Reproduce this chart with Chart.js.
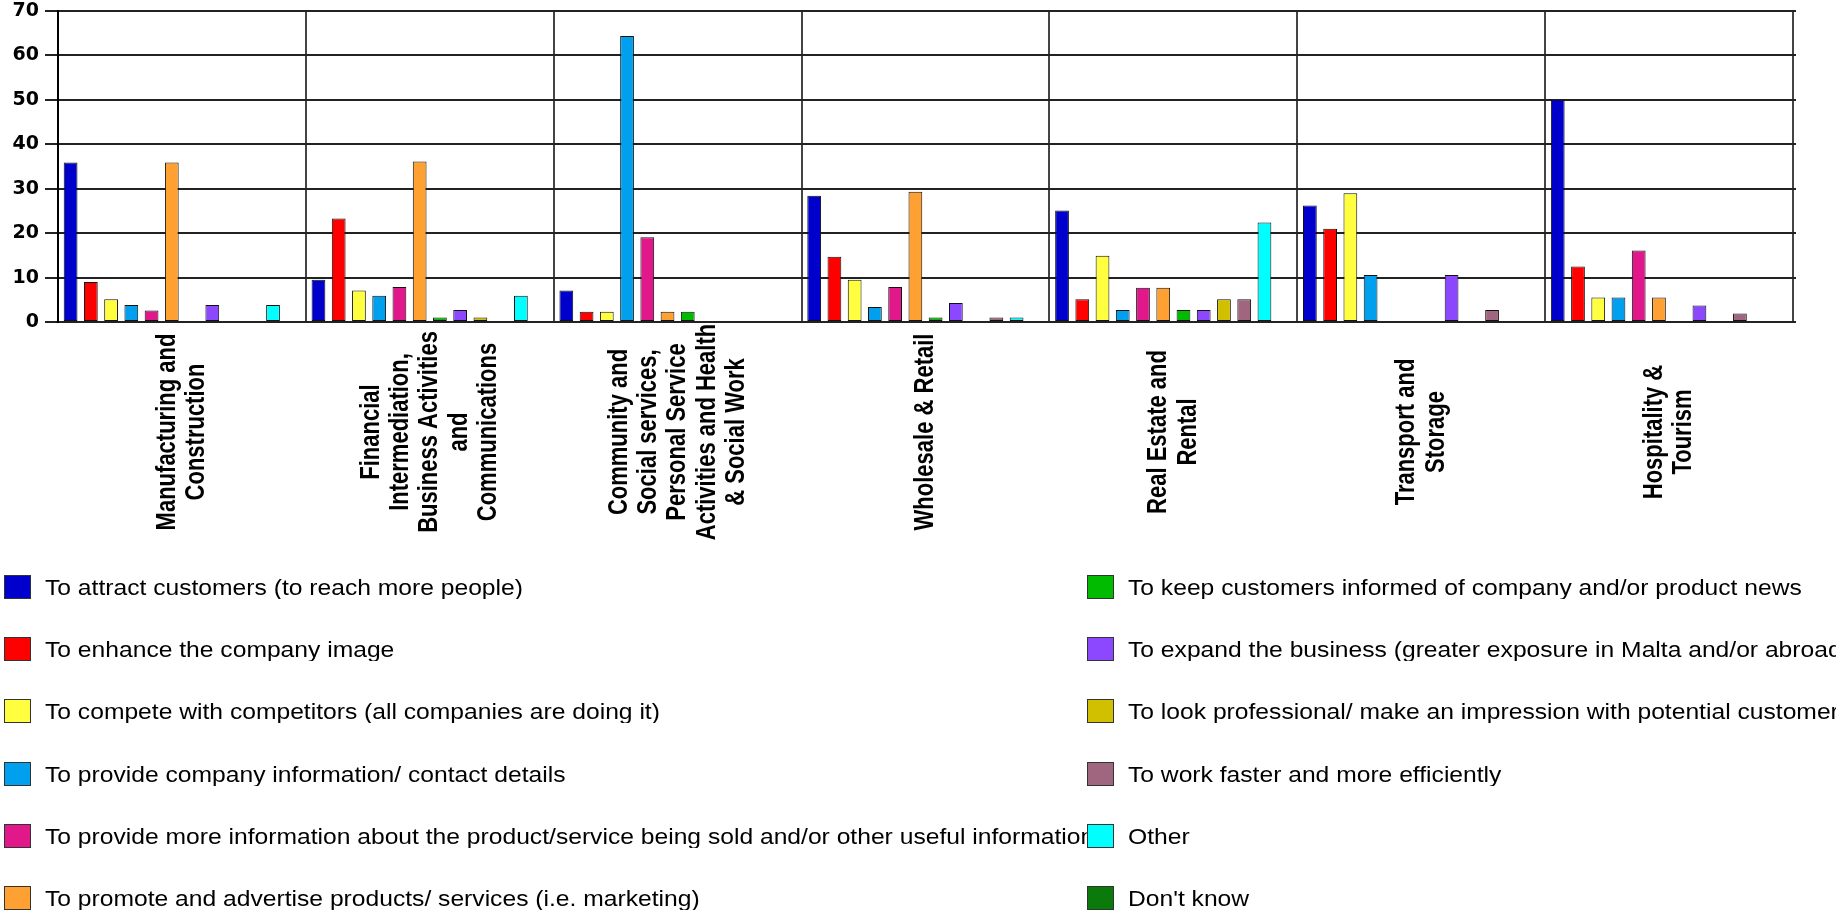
<!DOCTYPE html>
<html>
<head>
<meta charset="utf-8">
<title>Reasons for having a website by sector</title>
<script src="https://cdn.jsdelivr.net/npm/chart.js@4.4.1/dist/chart.umd.min.js"></script>
<style>
    html, body { margin: 0; padding: 0; background: #fff; overflow: hidden; }
    #wrap { position: relative; width: 1836px; height: 915px; }
    #chart { position: absolute; left: 0; top: 0; }
    .legend-box { position: absolute; width: 27px; height: 24px; box-sizing: border-box; border: 1px solid #333; }
    .legend-text { position: absolute; height: 24px; line-height: 24px; overflow: hidden; white-space: nowrap;
                   font: 22px "Liberation Sans", Arial, sans-serif; color: #000; }
    .legend-text span { display: inline-block; transform: scaleX(1.12); transform-origin: left center; }
</style>
</head>
<body>
<div id="wrap">
    <canvas id="chart" width="1836" height="915"></canvas>
    <div id="legend"></div>
</div>
<script>
// sectors (x axis), one array of lines per label
var categories = [
    ['Manufacturing and', 'Construction'],
    ['Financial', 'Intermediation,', 'Business Activities', 'and', 'Communications'],
    ['Community and', 'Social services,', 'Personal Service', 'Activities and Health', '& Social Work'],
    ['Wholesale & Retail'],
    ['Real Estate and', 'Rental'],
    ['Transport and', 'Storage'],
    ['Hospitality &', 'Tourism']
];

var reasons = [
    'To attract customers (to reach more people)',
    'To enhance the company image',
    'To compete with competitors (all companies are doing it)',
    'To provide company information/ contact details',
    'To provide more information about the product/service being sold and/or other useful information',
    'To promote and advertise products/ services (i.e. marketing)',
    'To keep customers informed of company and/or product news',
    'To expand the business (greater exposure in Malta and/or abroad)',
    'To look professional/ make an impression with potential customers',
    'To work faster and more efficiently',
    'Other',
    "Don't know"
];

var colours = ['#0000CC', '#FF0000', '#FFFF40', '#00A0EE', '#E0188A', '#FFA033',
               '#00BB00', '#8C48FF', '#D0C000', '#A06680', '#00FFFF', '#0A7A0A'];

// percentages per sector
var attract      = [35.9, 9.5, 7.1, 28.4, 25.1, 26.2, 50.0];
var image        = [9.0, 23.3, 2.3, 14.7, 5.1, 21.0, 12.5];
var compete      = [5.1, 7.1, 2.3, 9.5, 14.9, 29.0, 5.5];
var contactInfo  = [3.8, 5.9, 64.4, 3.4, 2.7, 10.6, 5.5];
var productInfo  = [2.6, 7.9, 19.1, 7.9, 7.7, 0, 16.1];
var promote      = [35.9, 36.1, 2.3, 29.3, 7.7, 0, 5.5];
var keepInformed = [0, 1.0, 2.3, 1.0, 2.7, 0, 0];
var expand       = [3.8, 2.7, 0, 4.3, 2.7, 10.6, 3.7];
var professional = [0, 1.0, 0, 0, 5.1, 0, 0];
var faster       = [0, 0, 0, 1.0, 5.1, 2.7, 1.9];
var other        = [3.8, 5.9, 0, 1.0, 22.4, 0, 0];
var dontKnow     = [0, 0, 0, 0, 0, 0, 0];

var yTicks = [0, 10, 20, 30, 40, 50, 60, 70];

var series = [attract, image, compete, contactInfo, productInfo, promote,
              keepInformed, expand, professional, faster, other, dontKnow];

// rotated, centred sector names under each group
var categoryLabels = {
    id: 'categoryLabels',
    afterDraw: function (chart) {
        var ctx = chart.ctx;
        var xScale = chart.scales.x;
        var midY = chart.chartArea.bottom + 110;
        ctx.save();
        ctx.fillStyle = '#000';
        ctx.font = 'bold 22px "Liberation Sans", Arial, sans-serif';
        ctx.textAlign = 'center';
        ctx.textBaseline = 'middle';
        chart.data.labels.forEach(function (lines, i) {
            var x = xScale.getPixelForValue(i);
            ctx.save();
            ctx.translate(x, midY);
            ctx.rotate(-Math.PI / 2);
            ctx.scale(1, 1.27);
            lines.forEach(function (line, j) {
                ctx.fillText(line, 0, (j - (lines.length - 1) / 2) * 23);
            });
            ctx.restore();
        });
        ctx.restore();
    }
};

var datasets = series.map(function (values, i) {
    return {
        label: reasons[i],
        data: values,
        backgroundColor: colours[i],
        borderColor: '#111',
        borderWidth: 1,
        borderSkipped: false,
        categoryPercentage: 0.98,
        barPercentage: 0.68
    };
});

new Chart(document.getElementById('chart'), {
    type: 'bar',
    data: {
        labels: categories,
        datasets: datasets
    },
    options: {
        responsive: false,
        animation: false,
        layout: {
            padding: {top: 11, right: 40, bottom: 593, left: 0}
        },
        plugins: {
            legend: {display: false},
            tooltip: {enabled: false}
        },
        scales: {
            x: {
                ticks: {display: false},
                grid: {color: '#444', lineWidth: 2, drawTicks: false, offset: true},
                border: {display: false}
            },
            y: {
                min: 0,
                max: 70,
                afterBuildTicks: function (scale) {
                    scale.ticks = yTicks.map(function (v) { return {value: v}; });
                },
                ticks: {
                    padding: 6,
                    color: '#000',
                    font: {family: 'DejaVu Sans', weight: 'bold', size: 19}
                },
                grid: {color: '#222', lineWidth: 2, tickLength: 13},
                border: {color: '#000', width: 2},
                afterFit: function (scale) {
                    scale.width = 58;
                    scale.paddingTop = 0;
                    scale.paddingBottom = 0;
                }
            },
            y2: {
                position: 'right',
                min: 0,
                max: 70,
                afterBuildTicks: function (scale) {
                    scale.ticks = yTicks.map(function (v) { return {value: v}; });
                },
                ticks: {display: false},
                grid: {drawOnChartArea: false, tickLength: 3, color: '#222', lineWidth: 2},
                border: {display: false},
                afterFit: function (scale) {
                    scale.width = 3;
                    scale.paddingTop = 0;
                    scale.paddingBottom = 0;
                }
            }
        }
    },
    plugins: [categoryLabels]
});

// two-column legend, first six reasons on the left
var legend = document.getElementById('legend');
reasons.forEach(function (text, i) {
    var col = i < 6 ? 0 : 1;
    var row = i % 6;
    var top = 575 + row * 62.2;
    var boxLeft = col === 0 ? 4 : 1087;
    var textLeft = col === 0 ? 45 : 1128;

    var box = document.createElement('div');
    box.className = 'legend-box';
    box.style.left = boxLeft + 'px';
    box.style.top = top + 'px';
    box.style.background = colours[i];
    legend.appendChild(box);

    var label = document.createElement('div');
    label.className = 'legend-text';
    label.style.left = textLeft + 'px';
    label.style.top = top + 'px';
    label.style.width = (col === 0 ? 1087 - textLeft : 1836 - textLeft) + 'px';
    var span = document.createElement('span');
    span.textContent = text;
    label.appendChild(span);
    legend.appendChild(label);
});
</script>
</body>
</html>
